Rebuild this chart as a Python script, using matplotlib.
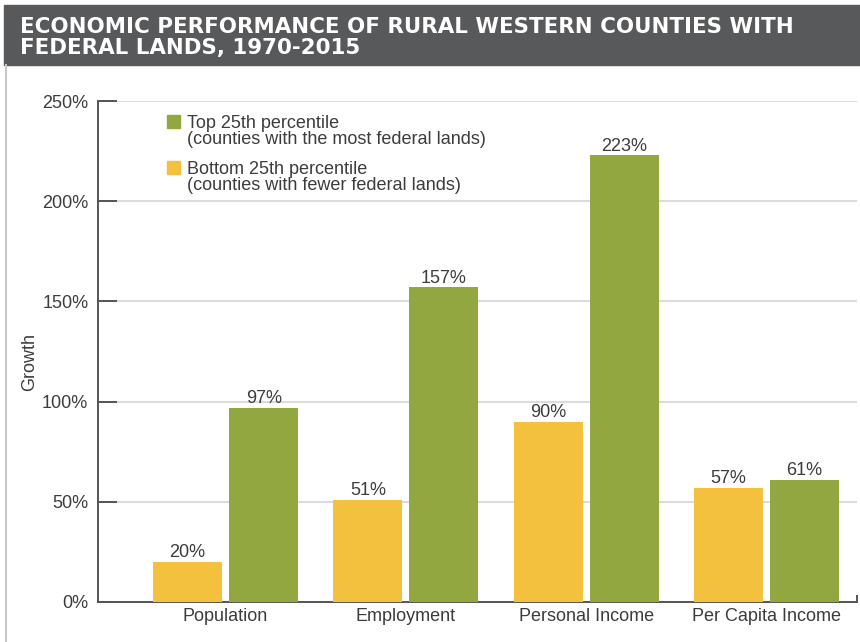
import matplotlib
matplotlib.use("Agg")
import matplotlib.pyplot as plt
from matplotlib.patches import Rectangle
from matplotlib.lines import Line2D
import numpy as np

categories = ["Population", "Employment", "Personal Income", "Per Capita Income"]
bottom_25 = [20, 51, 90, 57]
top_25 = [97, 157, 223, 61]
y_ticks = [0, 50, 100, 150, 200, 250]
y_tick_labels = ["0%", "50%", "100%", "150%", "200%", "250%"]
title_lines = ["ECONOMIC PERFORMANCE OF RURAL WESTERN COUNTIES WITH",
               "FEDERAL LANDS, 1970-2015"]
legend_labels = ["Top 25th percentile\n(counties with the most federal lands)",
                 "Bottom 25th percentile\n(counties with fewer federal lands)"]

GREEN = "#92a73f"
YELLOW = "#f3c13d"
TEXT = "#3c3c3c"
FS = 13

plt.rcParams["font.family"] = ["Liberation Sans", "DejaVu Sans"]

W, H = 860, 642
fig = plt.figure(figsize=(W / 100, H / 100), dpi=100)

# title band
fig.patches.append(Rectangle((4 / W, 1 - 65 / H), 1 - 4 / W, 60 / H,
                             transform=fig.transFigure, color="#58595b", zorder=0))
for i, line in enumerate(title_lines):
    fig.text(20 / W, 1 - (33 + i * 21) / H, line, color="white",
             fontsize=15.4, fontweight="bold", family=["DejaVu Sans"],
             va="baseline", ha="left")
# left frame line
fig.lines.append(Line2D([5.5 / W, 5.5 / W], [0, 1 - 65 / H], transform=fig.transFigure,
                        color="#c8c8c8", lw=1.5))

ax_left, ax_right = 98 / W, 857 / W
ax_bottom, ax_top = 1 - 602 / H, 1 - 101 / H
ax = fig.add_axes([ax_left, ax_bottom, ax_right - ax_left, ax_top - ax_bottom])

x = np.arange(len(categories))
width = 0.383
off = 0.211
ax.bar(x - off, bottom_25, width, color=YELLOW, zorder=3)
ax.bar(x + off, top_25, width, color=GREEN, zorder=3)

for xi, v in zip(x - off, bottom_25):
    ax.text(xi, v + 0.3, f"{v}%", ha="center", va="bottom", fontsize=FS, color=TEXT)
for xi, v in zip(x + off, top_25):
    ax.text(xi, v + 0.3, f"{v}%", ha="center", va="bottom", fontsize=FS, color=TEXT)

ax.set_xlim(-0.708, 3.503)
ax.set_ylim(0, 250)
ax.set_yticks(y_ticks)
ax.set_yticklabels(y_tick_labels, fontsize=FS, color=TEXT)
ax.set_xticks(x)
ax.set_xticklabels(categories, fontsize=FS, color=TEXT)
ax.tick_params(axis="y", direction="in", length=14, width=1.4, color="#555555", pad=7)
ax.tick_params(axis="x", length=0, pad=4)
ax.yaxis.grid(True, color="#dcdcdc", lw=1.5, zorder=0)
ax.set_axisbelow(True)
for s in ["top", "right"]:
    ax.spines[s].set_visible(False)
for s in ["left", "bottom"]:
    ax.spines[s].set_color("#555555")
    ax.spines[s].set_linewidth(1.4)
ax.set_ylabel("Growth", fontsize=FS, color=TEXT)
ax.yaxis.set_label_coords(-(98 - 38) / (857 - 98), 0.48)
# small end mark on the baseline
ax.plot([1, 1], [0, 0.012], transform=ax.transAxes, color="#555555", lw=1.4, clip_on=False)

# legend
for i, (lab, col) in enumerate(zip(legend_labels, [GREEN, YELLOW])):
    ytop = 115 + i * 46
    fig.patches.append(Rectangle((167 / W, 1 - (ytop + 13) / H), 13 / W, 13 / H,
                                 transform=fig.transFigure, color=col))
    fig.text(187 / W, 1 - ytop / H, lab, fontsize=FS, color=TEXT,
             va="top", ha="left", linespacing=0.92)

fig.savefig("out.png", dpi=100)
